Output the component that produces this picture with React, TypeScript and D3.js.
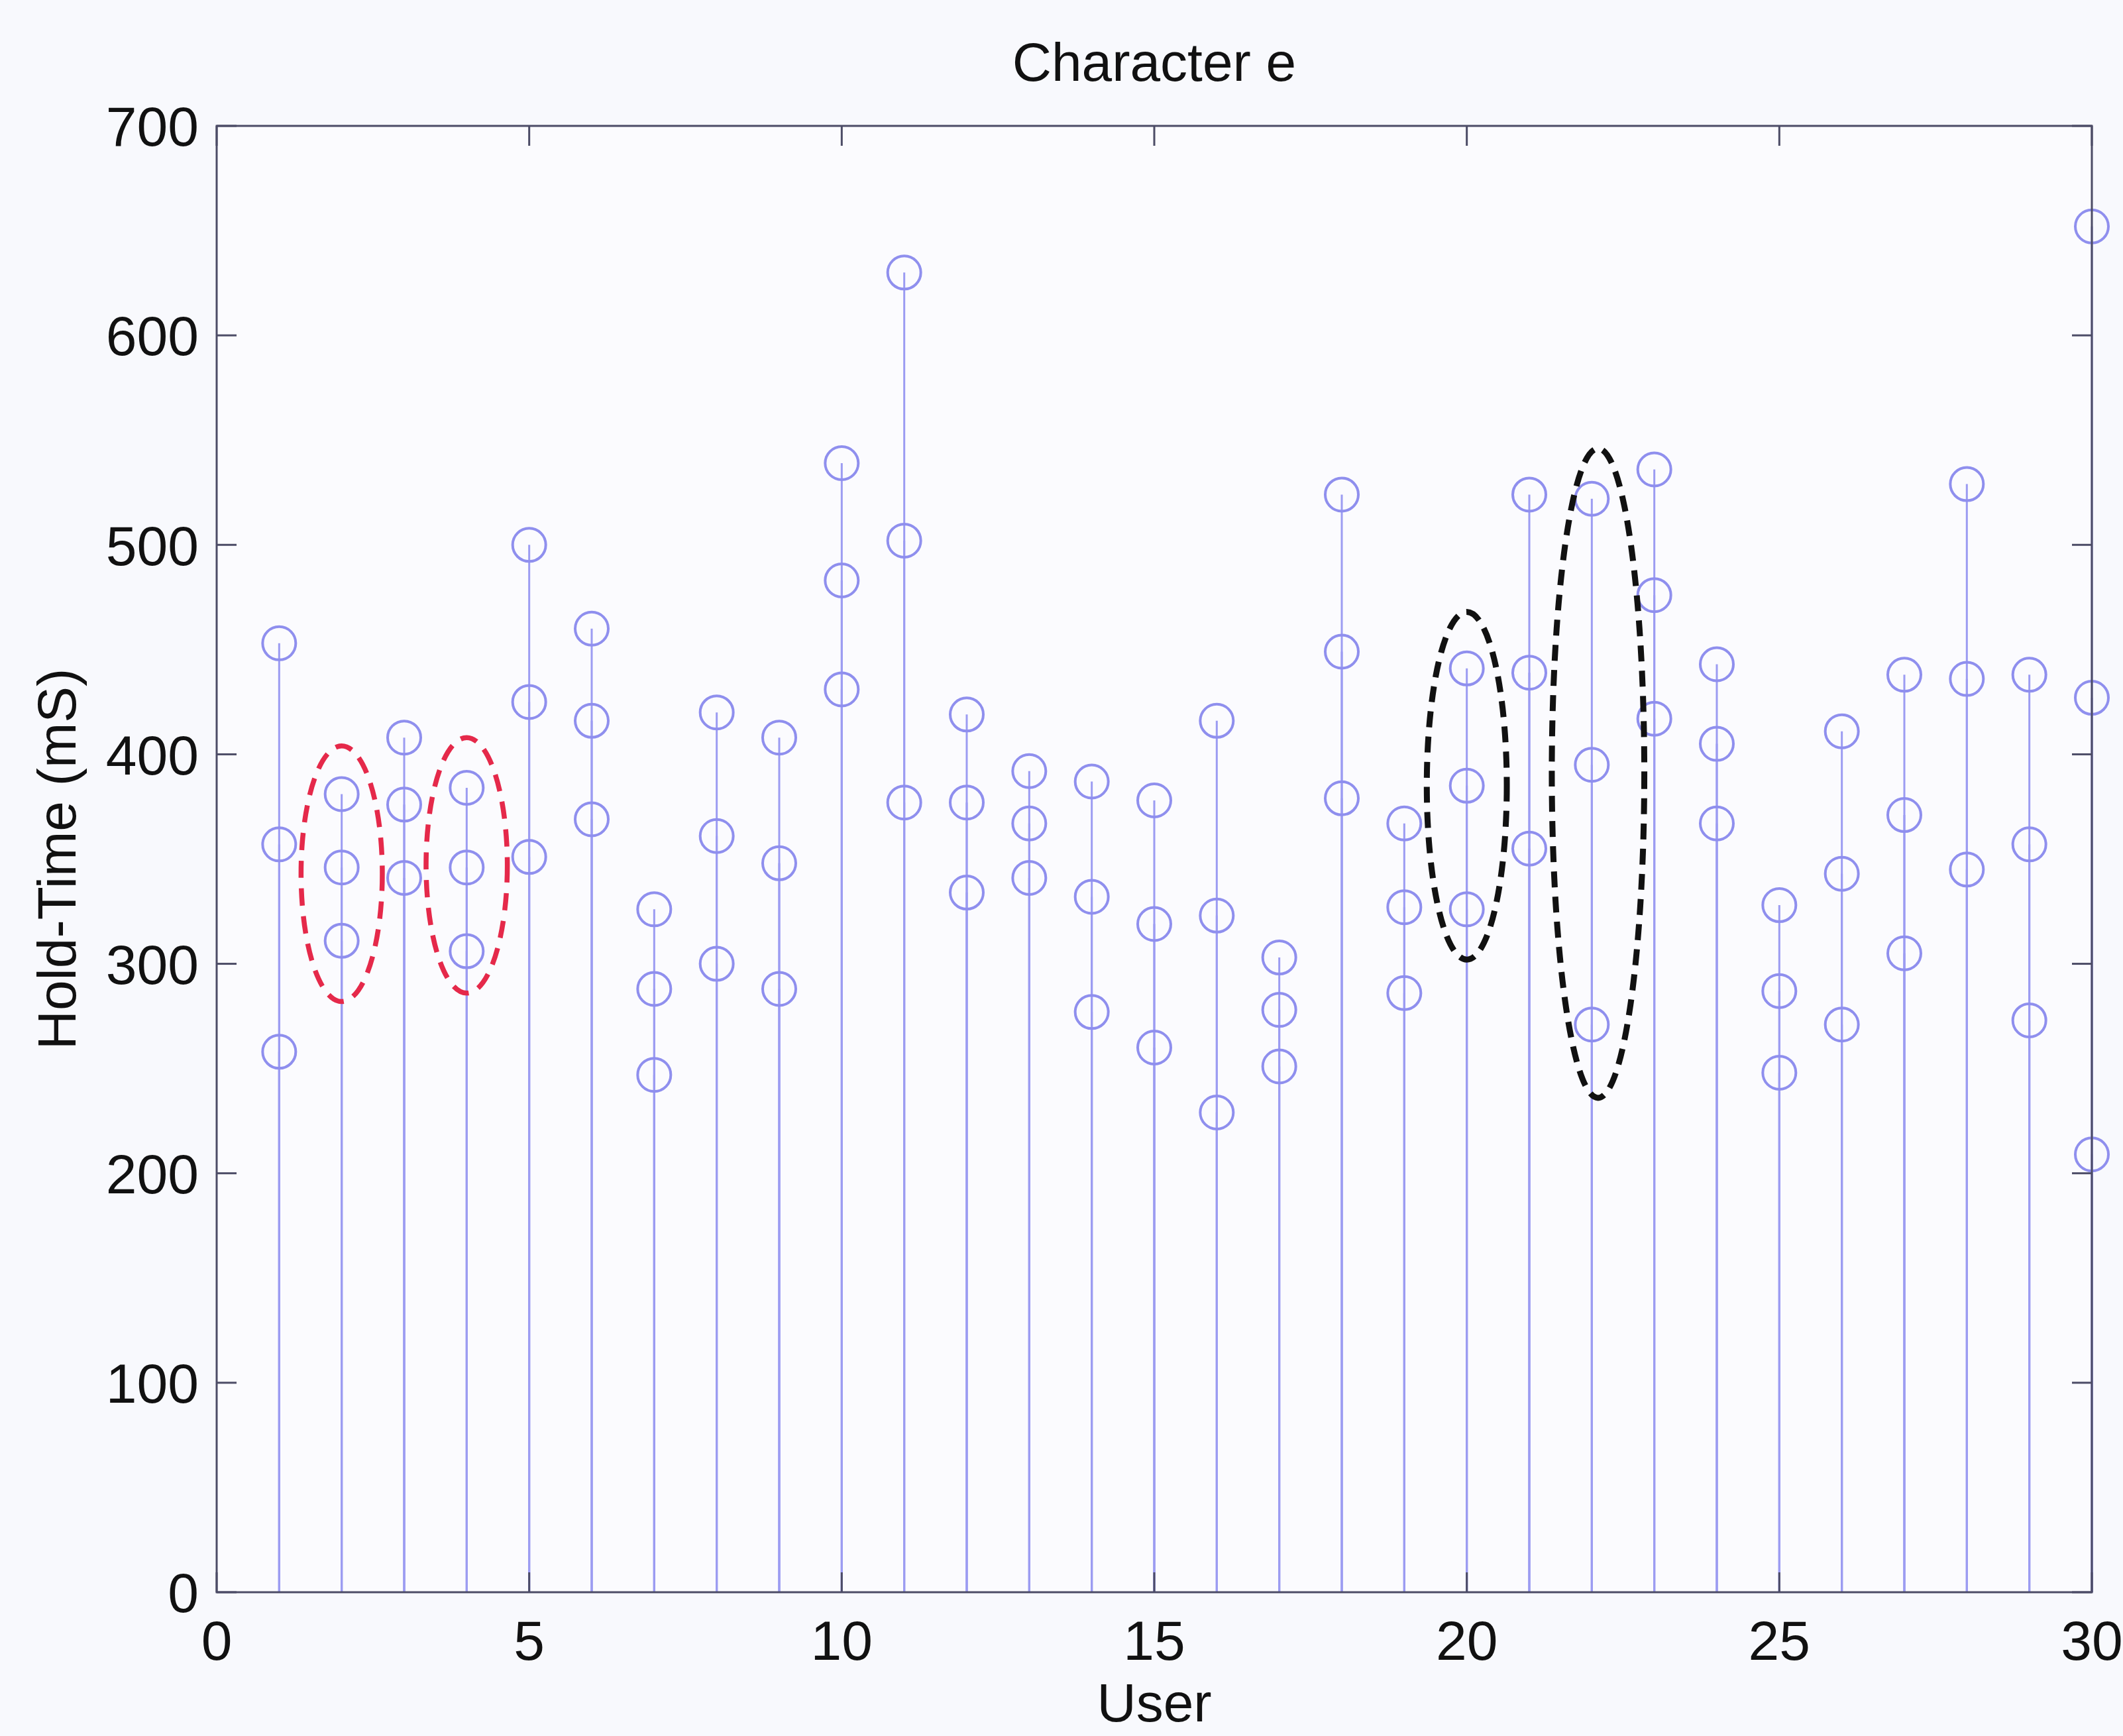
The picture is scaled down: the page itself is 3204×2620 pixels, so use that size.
import React from "react";
import * as d3 from "d3";

// ---- data ----
const users = [1, 2, 3, 4, 5, 6, 7, 8, 9, 10, 11, 12, 13, 14, 15, 16, 17, 18, 19, 20, 21, 22, 23, 24, 25, 26, 27, 28, 29, 30];
const sample1 = [453, 381, 408, 384, 500, 460, 326, 420, 408, 539, 630, 419, 392, 387, 378, 416, 303, 524, 367, 441, 524, 522, 536, 443, 328, 411, 438, 529, 438, 652];
const sample2 = [357, 346, 376, 346, 425, 416, 288, 361, 348, 483, 502, 377, 367, 332, 319, 323, 278, 449, 327, 385, 439, 395, 476, 405, 287, 343, 371, 436, 357, 427];
const sample3 = [258, 311, 341, 306, 351, 369, 247, 300, 288, 431, 377, 334, 341, 277, 260, 229, 251, 379, 286, 326, 355, 271, 417, 367, 248, 271, 305, 345, 273, 209];
const xTicks = [0, 5, 10, 15, 20, 25, 30];
const yTicks = [0, 100, 200, 300, 400, 500, 600, 700];
// highlighted groups: user, centre value, half-width (users), half-height (mS), colour
const groupUser = [2, 4, 20, 22.1];
const groupCenter = [343, 347, 385, 391];
const groupHalfW = [0.65, 0.65, 0.64, 0.74];
const groupHalfH = [61, 61, 83, 155];
const groupColor = ["#e5294a", "#e5294a", "#111111", "#111111"];

const W = 3204;
const H = 2620;
const M = { left: 327, right: 3157, top: 190, bottom: 2403 };
const FONT = "'Liberation Sans', Arial, Helvetica, sans-serif";

export default function App() {
  const x = d3.scaleLinear().domain([0, 30]).range([M.left, M.right]);
  const y = d3.scaleLinear().domain([0, 700]).range([M.bottom, M.top]);
  const series = [sample1, sample2, sample3];
  const stemColor = "#9c9cf2";
  const markColor = "#8f8fee";
  const axisColor = "#4c4c66";
  const tickLen = 30;

  return (
    <svg
      width={W}
      height={H}
      style={{ position: "absolute", left: 0, top: 0, background: "#f8f9fd" }}
      fontFamily={FONT}
    >
      <rect x={0} y={0} width={W} height={H} fill="#f8f9fd" />
      <rect x={M.left} y={M.top} width={M.right - M.left} height={M.bottom - M.top} fill="#fbfbfe" />

      {/* stems */}
      {series.map((s, si) =>
        s.map((v, i) => (
          <line
            key={`s${si}-${i}`}
            x1={x(users[i])}
            x2={x(users[i])}
            y1={y(0)}
            y2={y(v)}
            stroke={stemColor}
            strokeWidth={3}
          />
        ))
      )}
      {/* markers */}
      {series.map((s, si) =>
        s.map((v, i) => (
          <circle
            key={`c${si}-${i}`}
            cx={x(users[i])}
            cy={y(v)}
            r={25}
            fill="none"
            stroke={markColor}
            strokeWidth={4}
          />
        ))
      )}

      {/* dashed group ellipses */}
      {groupUser.map((u, i) => (
        <ellipse
          key={`e${i}`}
          cx={x(u)}
          cy={y(groupCenter[i])}
          rx={x(groupHalfW[i]) - x(0)}
          ry={y(0) - y(groupHalfH[i])}
          fill="none"
          stroke={groupColor[i]}
          strokeWidth={i < 2 ? 7.5 : 9}
          strokeDasharray={i < 2 ? "26 16" : "24 14"}
        />
      ))}

      {/* axes box */}
      <rect
        x={M.left}
        y={M.top}
        width={M.right - M.left}
        height={M.bottom - M.top}
        fill="none"
        stroke={axisColor}
        strokeWidth={3}
      />
      {xTicks.map((t) => (
        <g key={`xt${t}`}>
          <line x1={x(t)} x2={x(t)} y1={M.bottom} y2={M.bottom - tickLen} stroke={axisColor} strokeWidth={3} />
          <line x1={x(t)} x2={x(t)} y1={M.top} y2={M.top + tickLen} stroke={axisColor} strokeWidth={3} />
          <text x={x(t)} y={2505} fontSize={84} textAnchor="middle" fill="#111">
            {t}
          </text>
        </g>
      ))}
      {yTicks.map((t) => (
        <g key={`yt${t}`}>
          <line x1={M.left} x2={M.left + tickLen} y1={y(t)} y2={y(t)} stroke={axisColor} strokeWidth={3} />
          <line x1={M.right} x2={M.right - tickLen} y1={y(t)} y2={y(t)} stroke={axisColor} strokeWidth={3} />
          <text x={300} y={y(t)} dy="0.36em" fontSize={84} textAnchor="end" fill="#111">
            {t}
          </text>
        </g>
      ))}

      {/* titles */}
      <text x={(M.left + M.right) / 2} y={122} fontSize={82} textAnchor="middle" fill="#111">
        Character e
      </text>
      <text x={(M.left + M.right) / 2} y={2598} fontSize={82} textAnchor="middle" fill="#111">
        User
      </text>
      <text
        transform={`translate(114, ${(M.top + M.bottom) / 2}) rotate(-90)`}
        fontSize={82}
        textAnchor="middle"
        fill="#111"
      >
        Hold-Time (mS)
      </text>
    </svg>
  );
}
